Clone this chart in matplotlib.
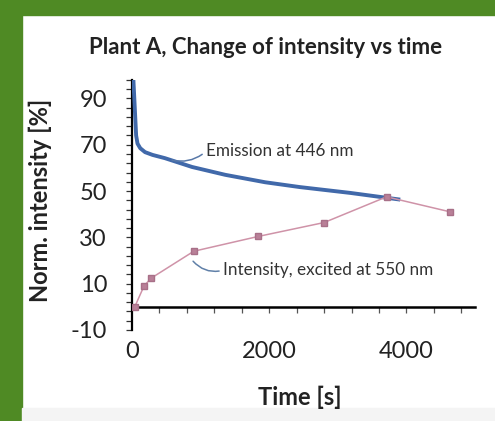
import numpy as np
import matplotlib
matplotlib.use("Agg")
import matplotlib.pyplot as plt
from matplotlib.patches import Rectangle
from matplotlib.ticker import FixedLocator, NullFormatter

plt.rcParams['font.family'] = ['Lato', 'DejaVu Sans']
plt.rcParams['axes.unicode_minus'] = False

# emission at 446 nm (continuous trace)
emis_t = [20, 40, 60, 80, 120, 190, 300, 480, 875, 1360, 1940, 2450, 3180, 3910]
emis_v = [98, 86, 74, 70.5, 68.5, 66.8, 65.6, 64.2, 60.4, 57.0, 53.8, 51.7, 49.2, 46.3]

# intensity excited at 550 nm (measured points)
exc_t = [40, 175, 280, 900, 1840, 2800, 3710, 4640]
exc_v = [0, 9, 12.4, 24, 30.4, 36.4, 47.5, 41]

xtick_labels = [0, 2000, 4000]
ytick_labels = [-10, 10, 30, 50, 70, 90]

fig = plt.figure(figsize=(4.95, 4.21), dpi=100)

# green frame + grey strip at the bottom
fig.patches.append(Rectangle((0, 0.9644), 1, 0.04, transform=fig.transFigure, color='#4f8a24', zorder=0))
fig.patches.append(Rectangle((0, 0), 0.0444, 1, transform=fig.transFigure, color='#4f8a24', zorder=0))
fig.patches.append(Rectangle((0.0444, 0), 1, 0.031, transform=fig.transFigure, color='#f4f4f4', zorder=0))

ax = fig.add_axes([0.2667, 0.2162, 0.693, 0.594])
ax.set_xlim(0, 5000)
ax.set_ylim(-10, 98)

ax.plot(emis_t, emis_v, color='#4169aa', lw=2.8, solid_capstyle='butt', zorder=3)
ax.plot(exc_t, exc_v, color='#cf93a8', lw=1.1, marker='s', ms=4.5,
        mfc='#b98098', mec='#a87088', zorder=4)

# spines: y axis on the left, x axis crossing at y=0
for s in ['top', 'right']:
    ax.spines[s].set_visible(False)
ax.spines['left'].set_linewidth(1.6)
ax.spines['bottom'].set_position(('data', 0))
ax.spines['bottom'].set_linewidth(1.8)

ax.xaxis.set_major_locator(FixedLocator(np.arange(400, 4801, 400)))
ax.xaxis.set_major_formatter(NullFormatter())
ax.tick_params(axis='x', direction='out', length=4, width=0.9, color='#555555')

ax.yaxis.set_major_locator(FixedLocator(ytick_labels))
ax.yaxis.set_minor_locator(FixedLocator(np.arange(-10, 99, 4)))
ax.tick_params(axis='y', which='both', direction='out', length=4, width=0.9,
               pad=14, labelsize=17, labelcolor='#222222', color='#333333')

# tick labels for x sit under the plot, not on the zero line
sec = ax.secondary_xaxis('bottom')
sec.spines['bottom'].set_visible(False)
sec.set_xticks(xtick_labels)
sec.tick_params(length=0, pad=8, labelsize=17, labelcolor='#222222')

ax.annotate('Emission at 446 nm', xy=(584, 63.3), xytext=(1080, 67.2),
            fontsize=12.3, color='#333333', ha='left', va='center',
            arrowprops=dict(arrowstyle='-', color='#5878a8', lw=1.1, relpos=(0, 0.5),
                            connectionstyle='arc3,rad=-0.25', shrinkA=1, shrinkB=0))
ax.annotate('Intensity, excited at 550 nm', xy=(890, 19.7), xytext=(1330, 15.8),
            fontsize=12.3, color='#333333', ha='left', va='center',
            arrowprops=dict(arrowstyle='-', color='#6080a8', lw=1.1, relpos=(0, 0.5),
                            connectionstyle='arc3,rad=-0.3', shrinkA=1, shrinkB=0))

fig.text(0.537, 0.888, 'Plant A, Change of intensity vs time', ha='center', va='center',
         fontsize=16, fontweight='bold', color='#222222')
fig.text(0.081, 0.525, 'Norm. intensity [%]', ha='center', va='center', rotation=90,
         fontsize=17, fontweight='bold', color='#222222')
fig.text(0.606, 0.057, 'Time [s]', ha='center', va='center',
         fontsize=17, fontweight='bold', color='#222222')

fig.savefig('out.png', dpi=100)
